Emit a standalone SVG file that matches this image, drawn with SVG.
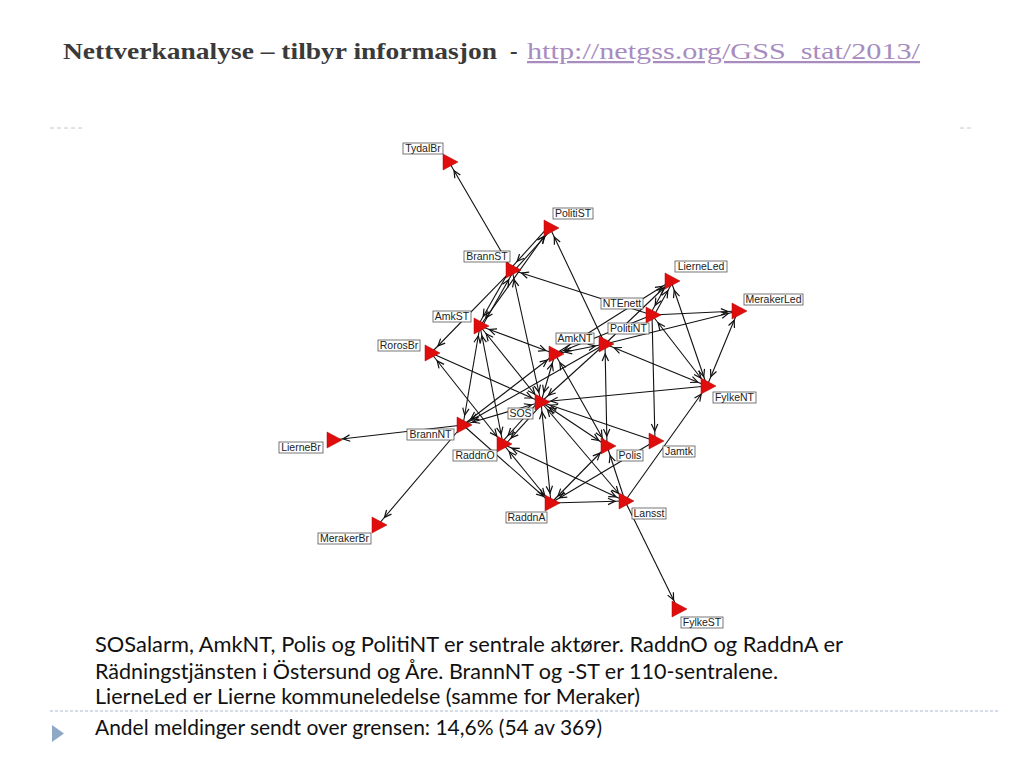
<svg xmlns="http://www.w3.org/2000/svg" xmlns:xlink="http://www.w3.org/1999/xlink" width="1024" height="768" viewBox="0 0 1024 768">
<style>
.ed line{stroke:#111;stroke-width:1.1;fill:none}
.e{marker-end:url(#ah)}
.b{marker-start:url(#ah);marker-end:url(#ah)}
.tri{fill:#e00d0d;stroke:#b00000;stroke-width:0.5}
.lb{fill:#fff;stroke:#555;stroke-width:0.8}
.lt{font-family:"Liberation Sans",Arial,sans-serif;font-size:10.5px;fill:#222;text-anchor:middle}
.body{font-family:Lato,"Liberation Sans",sans-serif;font-size:21px;fill:#111}
</style>
<defs>
<marker id="ah" markerUnits="userSpaceOnUse" markerWidth="40" markerHeight="12" viewBox="-20 -6 40 12" refX="10" refY="0" orient="auto-start-reverse" overflow="visible">
<path d="M-7,-3.2 L0,0 L-7,3.2" fill="none" stroke="#111" stroke-width="1.2"/>
</marker>
<polygon id="tri" class="tri" points="0,0 0,16 15,8"/>
</defs>
<rect width="1024" height="768" fill="#fff"/>

<g id="title">
<text x="63" y="59" font-family="Liberation Serif,serif" font-weight="bold" font-size="22.5" fill="#3a3a3a" textLength="434" lengthAdjust="spacingAndGlyphs">Nettverkanalyse – tilbyr informasjon</text>
<text x="510" y="59" font-family="Liberation Serif,serif" font-weight="bold" font-size="22.5" fill="#3a3a3a">-</text>
<text x="527" y="59" font-family="Liberation Serif,serif" font-size="22.5" fill="#a88cbf" textLength="393" lengthAdjust="spacingAndGlyphs" text-decoration="underline">http://netgss.org/GSS_stat/2013/</text>
</g>
<g id="rules">
<line x1="50" y1="128" x2="85" y2="128" stroke="#c8c8c8" stroke-width="1" stroke-dasharray="4,3"/>
<line x1="960" y1="128" x2="974" y2="128" stroke="#c8c8c8" stroke-width="1" stroke-dasharray="4,3"/>
<line x1="50" y1="711" x2="1000" y2="711" stroke="#a9bccf" stroke-width="1" stroke-dasharray="3,2"/>
<polygon points="52,725 52,742 64,733.5" fill="#8ea9c6"/>
</g>

<g id="connectors" class="ed">
<line class="e" x1="512" y1="270" x2="449" y2="162"/>
<line class="e" x1="513.5" y1="271.3" x2="551.5" y2="229.3"/>
<line class="e" x1="548.5" y1="226.7" x2="510.5" y2="268.7"/>
<line class="e" x1="481.7" y1="327" x2="513.7" y2="271"/>
<line class="e" x1="510.3" y1="269" x2="478.3" y2="325"/>
<line class="b" x1="480" y1="326" x2="550" y2="228"/>
<line class="e" x1="512" y1="270" x2="431" y2="353"/>
<line class="b" x1="512" y1="270" x2="541" y2="402"/>
<line class="e" x1="652" y1="315" x2="512" y2="270"/>
<line class="e" x1="605" y1="344" x2="550" y2="228"/>
<line class="e" x1="653.7" y1="316" x2="672.7" y2="282"/>
<line class="e" x1="669.3" y1="280" x2="650.3" y2="314"/>
<line class="e" x1="605" y1="344" x2="671" y2="281"/>
<line class="e" x1="555" y1="354" x2="671" y2="281"/>
<line class="e" x1="652" y1="315" x2="738" y2="311"/>
<line class="e" x1="605" y1="344" x2="738" y2="311"/>
<line class="b" x1="671" y1="281" x2="707" y2="386"/>
<line class="b" x1="738" y1="311" x2="707" y2="386"/>
<line class="b" x1="652" y1="315" x2="707" y2="386"/>
<line class="b" x1="605" y1="344" x2="707" y2="386"/>
<line class="e" x1="652" y1="315" x2="655" y2="441"/>
<line class="b" x1="605" y1="344" x2="607" y2="446"/>
<line class="e" x1="625" y1="501" x2="707" y2="386"/>
<line class="e" x1="605" y1="344" x2="541" y2="402"/>
<line class="b" x1="555" y1="354" x2="605" y2="344"/>
<line class="b" x1="555" y1="354" x2="541" y2="402"/>
<line class="b" x1="555" y1="354" x2="463" y2="425"/>
<line class="b" x1="555" y1="354" x2="607" y2="446"/>
<line class="b" x1="480" y1="326" x2="555" y2="354"/>
<line class="b" x1="480" y1="326" x2="463" y2="425"/>
<line class="b" x1="480" y1="326" x2="503" y2="444"/>
<line class="b" x1="480" y1="326" x2="541" y2="402"/>
<line class="e" x1="431" y1="353" x2="541" y2="402"/>
<line class="b" x1="431" y1="353" x2="503" y2="444"/>
<line class="e" x1="463" y1="425" x2="333" y2="440"/>
<line class="e" x1="463" y1="425" x2="378" y2="525"/>
<line class="b" x1="541" y1="402" x2="463" y2="425"/>
<line class="e" x1="605" y1="344" x2="463" y2="425"/>
<line class="e" x1="463" y1="425" x2="551" y2="503"/>
<line class="e" x1="542.5" y1="403.3" x2="504.5" y2="445.3"/>
<line class="e" x1="539.5" y1="400.7" x2="501.5" y2="442.7"/>
<line class="b" x1="541" y1="402" x2="551" y2="503"/>
<line class="b" x1="503" y1="444" x2="551" y2="503"/>
<line class="b" x1="625" y1="501" x2="503" y2="444"/>
<line class="b" x1="541" y1="402" x2="607" y2="446"/>
<line class="e" x1="655" y1="441" x2="541" y2="402"/>
<line class="b" x1="541" y1="402" x2="625" y2="501"/>
<line class="b" x1="551" y1="503" x2="607" y2="446"/>
<line class="e" x1="655" y1="441" x2="551" y2="503"/>
<line class="e" x1="551" y1="503" x2="625" y2="501"/>
<line class="e" x1="625" y1="501" x2="607" y2="446"/>
<line class="e" x1="625" y1="501" x2="678" y2="609"/>
<line class="e" x1="707" y1="386" x2="541" y2="402"/>
<line class="e" x1="652" y1="315" x2="555" y2="354"/>
</g>

<g id="node-TydalBr"><use xlink:href="#tri" x="443" y="154"/><rect class="lb" x="403" y="143" width="40" height="11"/><text class="lt" x="423" y="152">TydalBr</text></g>
<g id="node-PolitiST"><use xlink:href="#tri" x="544" y="220"/><rect class="lb" x="553" y="208" width="40" height="11"/><text class="lt" x="573" y="217">PolitiST</text></g>
<g id="node-BrannST"><use xlink:href="#tri" x="506" y="262"/><rect class="lb" x="464" y="251" width="46" height="11"/><text class="lt" x="487" y="260">BrannST</text></g>
<g id="node-LierneLed"><use xlink:href="#tri" x="665" y="273"/><rect class="lb" x="675" y="261" width="52" height="11"/><text class="lt" x="701" y="270">LierneLed</text></g>
<g id="node-MerakerLed"><use xlink:href="#tri" x="732" y="303"/><rect class="lb" x="744" y="294" width="59" height="11"/><text class="lt" x="773.5" y="303">MerakerLed</text></g>
<g id="node-NTEnett"><use xlink:href="#tri" x="646" y="307"/><rect class="lb" x="601" y="298" width="42" height="11"/><text class="lt" x="622" y="307">NTEnett</text></g>
<g id="node-PolitiNT"><use xlink:href="#tri" x="599" y="336"/><rect class="lb" x="608" y="323" width="41" height="11"/><text class="lt" x="628.5" y="332">PolitiNT</text></g>
<g id="node-AmkST"><use xlink:href="#tri" x="474" y="318"/><rect class="lb" x="433" y="311" width="38" height="11"/><text class="lt" x="452" y="320">AmkST</text></g>
<g id="node-RorosBr"><use xlink:href="#tri" x="425" y="345"/><rect class="lb" x="378" y="340" width="42" height="11"/><text class="lt" x="399" y="349">RorosBr</text></g>
<g id="node-AmkNT"><use xlink:href="#tri" x="549" y="346"/><rect class="lb" x="556" y="333" width="38" height="11"/><text class="lt" x="575" y="342">AmkNT</text></g>
<g id="node-FylkeNT"><use xlink:href="#tri" x="701" y="378"/><rect class="lb" x="713" y="392" width="43" height="11"/><text class="lt" x="734.5" y="401">FylkeNT</text></g>
<g id="node-SOS"><use xlink:href="#tri" x="535" y="394"/><rect class="lb" x="508" y="408" width="25" height="11"/><text class="lt" x="520.5" y="417">SOS</text></g>
<g id="node-BrannNT"><use xlink:href="#tri" x="457" y="417"/><rect class="lb" x="407" y="429" width="47" height="11"/><text class="lt" x="430.5" y="438">BrannNT</text></g>
<g id="node-LierneBr"><use xlink:href="#tri" x="327" y="432"/><rect class="lb" x="279" y="442" width="44" height="11"/><text class="lt" x="301" y="451">LierneBr</text></g>
<g id="node-RaddnO"><use xlink:href="#tri" x="497" y="436"/><rect class="lb" x="453" y="450" width="44" height="11"/><text class="lt" x="475" y="459">RaddnO</text></g>
<g id="node-Polis"><use xlink:href="#tri" x="601" y="438"/><rect class="lb" x="617" y="450" width="26" height="11"/><text class="lt" x="630" y="459">Polis</text></g>
<g id="node-Jamtk"><use xlink:href="#tri" x="649" y="433"/><rect class="lb" x="663" y="446" width="32" height="11"/><text class="lt" x="679" y="455">Jamtk</text></g>
<g id="node-RaddnA"><use xlink:href="#tri" x="545" y="495"/><rect class="lb" x="506" y="512" width="41" height="11"/><text class="lt" x="526.5" y="521">RaddnA</text></g>
<g id="node-Lansst"><use xlink:href="#tri" x="619" y="493"/><rect class="lb" x="632" y="508" width="34" height="11"/><text class="lt" x="649" y="517">Lansst</text></g>
<g id="node-MerakerBr"><use xlink:href="#tri" x="372" y="517"/><rect class="lb" x="318" y="533" width="53" height="11"/><text class="lt" x="344.5" y="542">MerakerBr</text></g>
<g id="node-FylkeST"><use xlink:href="#tri" x="672" y="601"/><rect class="lb" x="681" y="617" width="42" height="11"/><text class="lt" x="702" y="626">FylkeST</text></g>

<g id="caption">
<text class="body" x="95" y="652" textLength="748" lengthAdjust="spacingAndGlyphs">SOSalarm,  AmkNT, Polis og PolitiNT er sentrale aktører.  RaddnO og RaddnA er</text>
<text class="body" x="95" y="679" textLength="683" lengthAdjust="spacingAndGlyphs">Rädningstjänsten i Östersund og Åre.  BrannNT og -ST er 110-sentralene.</text>
<text class="body" x="95" y="704" textLength="545" lengthAdjust="spacingAndGlyphs">LierneLed er Lierne kommuneledelse (samme for Meraker)</text>
<text class="body" x="95" y="735" textLength="507" lengthAdjust="spacingAndGlyphs">Andel meldinger sendt over grensen: 14,6% (54 av 369)</text>
</g>
</svg>
